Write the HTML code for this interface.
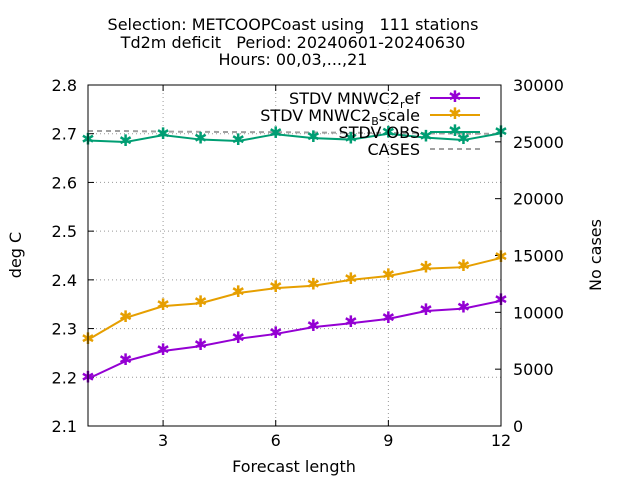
<!DOCTYPE html>
<html><head><meta charset="utf-8"><style>body{margin:0;background:#fff}svg{display:block}text{font-family:"DejaVu Sans","Liberation Sans",sans-serif;font-size:16px;fill:#000;white-space:pre}</style></head>
<body>
<svg id="chart" width="640" height="480">
<text x="293" y="30" text-anchor="middle">Selection: METCOOPCoast using   111 stations</text>
<text x="293" y="48" text-anchor="middle">Td2m deficit   Period: 20240601-20240630</text>
<text x="293" y="65" text-anchor="middle">Hours: 00,03,...,21</text>
<text x="294" y="472" text-anchor="middle">Forecast length</text>
<text transform="translate(21,255) rotate(-90)" text-anchor="middle">deg C</text>
<text transform="translate(601,255) rotate(-90)" text-anchor="middle">No cases</text>
<g id="grid"></g><g id="ticks"></g><g id="series"></g>
<rect x="88" y="85" width="413" height="341" fill="none" stroke="#000"/>
<g>
<text x="420" y="104" text-anchor="end">STDV MNWC2<tspan dy="4" font-size="11">r</tspan><tspan dy="-4">ef</tspan></text>
<line x1="430" y1="98" x2="480" y2="98" stroke="#9400d3" stroke-width="2"/><text x="455" y="102" text-anchor="middle" font-size="12" style="fill:#9400d3">✱</text>
<text x="420" y="121" text-anchor="end">STDV MNWC2<tspan dy="4" font-size="11">B</tspan><tspan dy="-4">scale</tspan></text>
<line x1="430" y1="115" x2="480" y2="115" stroke="#e69f00" stroke-width="2"/><text x="455" y="119" text-anchor="middle" font-size="12" style="fill:#e69f00">✱</text>
<text x="420" y="138" text-anchor="end">STDV OBS</text>
<line x1="430" y1="132" x2="480" y2="132" stroke="#009e73" stroke-width="2"/><text x="455" y="136" text-anchor="middle" font-size="12" style="fill:#009e73">✱</text>
<text x="420" y="155" text-anchor="end">CASES</text>
<line x1="430" y1="149" x2="480" y2="149" stroke="#a0a0a0" stroke-width="2" stroke-dasharray="5,4"/>
</g>
</svg>
<script>
const xs=[1,2,3,4,5,6,7,8,9,10,11,12];
const stdvRef=[2.197,2.233,2.254,2.264,2.279,2.289,2.303,2.311,2.320,2.336,2.341,2.357];
const stdvBscale=[2.277,2.322,2.346,2.352,2.373,2.383,2.388,2.400,2.408,2.423,2.426,2.445];
const stdvObs=[2.686,2.683,2.697,2.688,2.685,2.699,2.691,2.688,2.700,2.692,2.687,2.701];
const cases=[25950,25950,25900,25880,25860,25850,25820,25800,25780,25750,25720,25700];
const xTicks=[3,6,9,12];
const yTicks=[2.1,2.2,2.3,2.4,2.5,2.6,2.7,2.8];
const y2Ticks=[0,5000,10000,15000,20000,25000,30000];
const NS="http://www.w3.org/2000/svg";
const X=v=>88+(v-1)*413/11, Y=v=>426-(v-2.1)*341/0.7, Y2=v=>426-v*341/30000;
function mk(t,a,p){const e=document.createElementNS(NS,t);for(const k in a)e.setAttribute(k,a[k]);document.getElementById(p).appendChild(e);return e;}
xTicks.forEach(v=>{
 if(v<12){const g=mk('line',{x1:X(v),x2:X(v),y1:85,y2:426,stroke:'#999','stroke-dasharray':'1,3'},'grid');
 
 }
 mk('line',{x1:X(v),x2:X(v),y1:426,y2:420,stroke:'#000'},'ticks');mk('line',{x1:X(v),x2:X(v),y1:85,y2:91,stroke:'#000'},'ticks');
 const t=mk('text',{x:X(v),y:446,'text-anchor':'middle'},'ticks');t.textContent=v;
 
 
});
yTicks.forEach(v=>{
 if(v>2.1&&v<2.8){const g=mk('line',{x1:88,x2:501,y1:Y(v),y2:Y(v),stroke:'#999','stroke-dasharray':'1,3'},'grid');
 
 }
 mk('line',{x1:88,x2:94,y1:Y(v),y2:Y(v),stroke:'#000'},'ticks');
 const t=mk('text',{x:77,y:Y(v)+6,'text-anchor':'end'},'ticks');t.textContent=v.toFixed(1);
 
 
});
y2Ticks.forEach(v=>{
 mk('line',{x1:495,x2:501,y1:Y2(v),y2:Y2(v),stroke:'#000'},'ticks');
 const t=mk('text',{x:513,y:Y2(v)+6,'text-anchor':'start'},'ticks');t.textContent=v;
 
 
});
const c=mk('polyline',{points:xs.map((x,i)=>X(x)+','+Y2(cases[i])).join(' '),fill:'none',stroke:'#a0a0a0','stroke-width':2,'stroke-dasharray':'5,4'},'series');


[[stdvRef,'#9400d3','stdv-ref'],[stdvBscale,'#e69f00','stdv-bscale'],[stdvObs,'#009e73','stdv-obs']].forEach(([d,col,n])=>{
 const l=mk('polyline',{points:xs.map((x,i)=>X(x)+','+Y(d[i])).join(' '),fill:'none',stroke:col,'stroke-width':2},'series');
 
 
 xs.forEach((x,i)=>{
  const m=mk('text',{x:X(x),y:Y(d[i])+4,'text-anchor':'middle','font-size':12,style:'fill:'+col},'series');m.textContent='✱';
  
  
 });
});
</script>
</body></html>
